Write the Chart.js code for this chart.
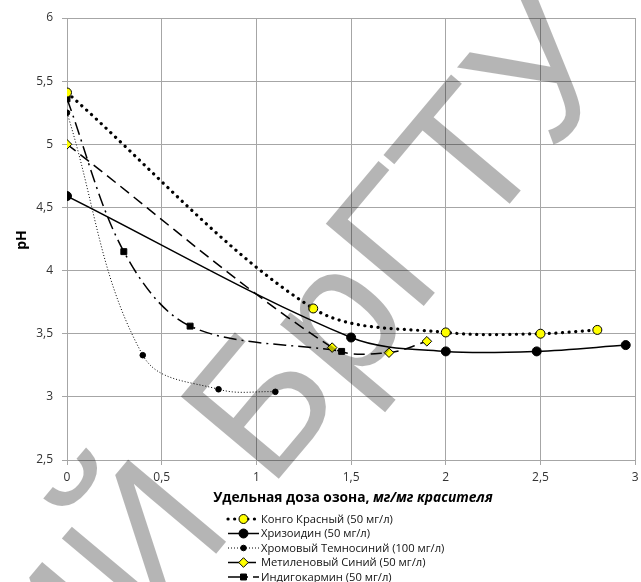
<!DOCTYPE html>
<html><head><meta charset="utf-8">
<script src="https://cdn.jsdelivr.net/npm/chart.js@4/dist/chart.umd.min.js"></script>
<style>html,body{margin:0;padding:0;background:#fff;}#wrap{width:641px;height:582px;}</style>
</head><body><div id="wrap"><canvas id="c" width="641" height="582"></canvas></div>
<script>
const seriesNames = ['Конго Красный (50 мг/л)','Хризоидин (50 мг/л)','Хромовый Темносиний (100 мг/л)','Метиленовый Синий (50 мг/л)','Индигокармин (50 мг/л)'];
const xKongo = [0, 1.3, 2, 2.5, 2.8];
const yKongo = [5.41, 3.70, 3.51, 3.50, 3.53];
const xChriz = [0, 1.5, 2, 2.48, 2.95];
const yChriz = [4.59, 3.47, 3.36, 3.36, 3.41];
const xChrom = [0, 0.4, 0.8, 1.1];
const yChrom = [5.25, 3.33, 3.06, 3.04];
const xMeth = [0, 1.4, 1.7, 1.9];
const yMeth = [5.0, 3.39, 3.35, 3.44];
const xIndigo = [0, 0.3, 0.65, 1.45];
const yIndigo = [5.36, 4.15, 3.56, 3.36];
const xTicks = [0, 0.5, 1, 1.5, 2, 2.5, 3];
const xTickLabels = ['0','0,5','1','1,5','2','2,5','3'];
const yTicks = [2.5, 3, 3.5, 4, 4.5, 5, 5.5, 6];
const yTickLabels = ['2,5','3','3,5','4','4,5','5','5,5','6'];
const xTitleMain = 'Удельная доза озона, ';
const xTitleItalic = 'мг/мг красителя';
const yTitle = 'pH';
const watermark = 'РЕПОЗИТОРИЙ БрГТУ';
const watermarkTail = 'БрГТУ';

function pts(xs, ys){ return xs.map((x,i)=>({x:x, y:ys[i]})); }

const datasets = [
  {label: seriesNames[0], data: pts(xKongo,yKongo), borderColor:'#000', borderWidth:3.2, borderDash:[0.1,6.5], borderCapStyle:'round',
   pointStyle:'circle', pointRadius:4.5, pointBackgroundColor:'#ffff00', pointBorderColor:'#000', pointBorderWidth:1, tension:0.33},
  {label: seriesNames[1], data: pts(xChriz,yChriz), borderColor:'#000', borderWidth:1.5, borderDash:[],
   pointStyle:'circle', pointRadius:4.5, pointBackgroundColor:'#000', pointBorderColor:'#000', pointBorderWidth:1, tension:0.33},
  {label: seriesNames[2], data: pts(xChrom,yChrom), borderColor:'#000', borderWidth:1, borderDash:[1,2],
   pointStyle:'circle', pointRadius:2.8, pointBackgroundColor:'#000', pointBorderColor:'#000', pointBorderWidth:1, tension:0.38},
  {label: seriesNames[3], data: pts(xMeth,yMeth), borderColor:'#000', borderWidth:1.5, borderDash:[11,6],
   pointStyle:'rectRot', pointRadius:4.8, pointBackgroundColor:'#ffff00', pointBorderColor:'#000', pointBorderWidth:1, tension:0.33},
  {label: seriesNames[4], data: pts(xIndigo,yIndigo), borderColor:'#000', borderWidth:1.5, borderDash:[13,5,2,5],
   pointStyle:'rect', pointRadius:4.2, pointBackgroundColor:'#000', pointBorderColor:'#000', pointBorderWidth:1, tension:0.33}
];

const FONT = "'Open Sans', 'Noto Sans', sans-serif";

const deco = {
  id:'deco',
  afterDraw(chart){
    const ctx = chart.ctx;
    ctx.save();
    ctx.fillStyle = '#000';
    ctx.font = 'bold 14px ' + FONT;
    ctx.textAlign = 'center'; ctx.textBaseline = 'middle';
    ctx.save(); ctx.translate(22, 240); ctx.rotate(-Math.PI/2); ctx.fillText(yTitle, 0, 0); ctx.restore();
    let fs = 14;
    ctx.font = 'bold ' + fs + 'px ' + FONT;
    let w1 = ctx.measureText(xTitleMain).width;
    ctx.font = 'italic bold ' + fs + 'px ' + FONT;
    let w2 = ctx.measureText(xTitleItalic).width;
    fs = fs * 280 / (w1 + w2);
    ctx.font = 'bold ' + fs + 'px ' + FONT;
    w1 = ctx.measureText(xTitleMain).width;
    ctx.font = 'italic bold ' + fs + 'px ' + FONT;
    w2 = ctx.measureText(xTitleItalic).width;
    const x0 = 353 - (w1 + w2) / 2;
    ctx.textAlign = 'left'; ctx.textBaseline = 'middle';
    ctx.font = 'bold ' + fs + 'px ' + FONT;
    ctx.fillText(xTitleMain, x0, 498);
    ctx.font = 'italic bold ' + fs + 'px ' + FONT;
    ctx.fillText(xTitleItalic, x0 + w1, 498);
    let lfs = 12;
    ctx.font = lfs + 'px ' + FONT;
    const lw = ctx.measureText(seriesNames[0]).width;
    lfs = lfs * 132 / lw;
    chart.data.datasets.forEach((ds, i) => {
      const y = 519 + i * 14.5;
      ctx.save();
      ctx.strokeStyle = '#000';
      ctx.lineWidth = ds.borderWidth;
      ctx.setLineDash(ds.borderDash || []);
      ctx.lineCap = ds.borderCapStyle || 'butt';
      ctx.beginPath(); ctx.moveTo(228, y); ctx.lineTo(259, y); ctx.stroke();
      ctx.setLineDash([]);
      ctx.fillStyle = ds.pointBackgroundColor;
      ctx.strokeStyle = ds.pointBorderColor;
      ctx.lineWidth = ds.pointBorderWidth;
      Chart.helpers.drawPoint(ctx, {pointStyle: ds.pointStyle, radius: ds.pointRadius, borderWidth: ds.pointBorderWidth, rotation: 0}, 243.5, y);
      ctx.restore();
      ctx.fillStyle = '#111';
      ctx.font = lfs + 'px ' + FONT;
      ctx.textAlign = 'left'; ctx.textBaseline = 'middle';
      ctx.fillText(ds.label, 261, y + 0.5);
    });
    // watermark
    ctx.font = "186px 'Liberation Sans', Arial, sans-serif";
    const full = ctx.measureText(watermark).width;
    const tail = ctx.measureText(watermarkTail).width;
    const pre = ctx.measureText('Бр').width;
    ctx.translate(423, 307);
    ctx.rotate(-50 * Math.PI / 180);
    ctx.fillStyle = 'rgba(0,0,0,0.29)';
    ctx.textBaseline = 'alphabetic';
    ctx.textAlign = 'left';
    const bStart = -14 - pre;
    ctx.fillText(watermark, bStart - (full - tail), 0);
    ctx.restore();
  }
};

new Chart(document.getElementById('c'), {
  type: 'line',
  data: { datasets: datasets },
  options: {
    responsive: false, animation: false, devicePixelRatio: 1,
    layout: { padding: { top: 18, right: 0, bottom: 97, left: 0 } },
    plugins: { legend: { display: false }, tooltip: { enabled: false } },
    scales: {
      x: {
        type: 'linear', min: 0, max: 3,
        afterBuildTicks(s){ s.ticks = xTicks.map(v => ({value: v})); },
        afterFit(s){ s.height = 25; s.paddingLeft = 0; s.paddingRight = 0; },
        ticks: { callback: (v) => xTickLabels[xTicks.indexOf(v)], color: '#333', font: {family: FONT, size: 12}, padding: 5, maxRotation: 0, autoSkip: false },
        grid: { color: '#a6a6a6', lineWidth: 1, tickLength: 5, drawTicks: true },
        border: { color: '#a6a6a6', width: 1 }
      },
      y: {
        type: 'linear', min: 2.5, max: 6,
        afterBuildTicks(s){ s.ticks = yTicks.map(v => ({value: v})); },
        afterFit(s){ s.width = 67; s.paddingTop = 0; s.paddingBottom = 0; },
        ticks: { callback: (v) => yTickLabels[yTicks.indexOf(v)], color: '#333', font: {family: FONT, size: 12}, padding: 9, autoSkip: false },
        grid: { color: '#a6a6a6', lineWidth: 1, tickLength: 5, drawTicks: true },
        border: { color: '#a6a6a6', width: 1 }
      }
    }
  },
  plugins: [deco]
});
</script>
</body></html>
